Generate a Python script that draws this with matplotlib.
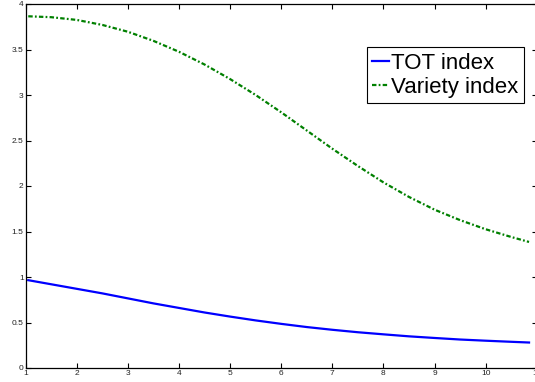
import matplotlib
matplotlib.use('Agg')
import matplotlib.pyplot as plt
import numpy as np

#%% Data
x_tot = [1.05, 1.5, 2, 2.5, 3, 3.5, 4, 4.5, 5, 5.5, 6, 6.5, 7, 7.5, 8, 8.5, 9, 9.5, 10, 10.5, 10.85]
tot_index = [0.965, 0.92, 0.87, 0.82, 0.765, 0.71, 0.66, 0.61, 0.565, 0.523, 0.485, 0.45,
             0.42, 0.393, 0.37, 0.348, 0.33, 0.313, 0.30, 0.288, 0.28]

x_var = [1.05, 1.5, 2, 2.5, 3, 3.5, 4, 4.5, 5, 5.5, 6, 6.5, 7, 7.5, 8, 8.5, 9, 9.5, 10, 10.5, 10.85]
variety_index = [3.865, 3.855, 3.825, 3.77, 3.695, 3.595, 3.475, 3.335, 3.175, 3.0, 2.81, 2.61,
                 2.41, 2.22, 2.04, 1.88, 1.74, 1.625, 1.525, 1.44, 1.385]

x_ticks = list(range(1, 12))
y_ticks = [0, 0.5, 1, 1.5, 2, 2.5, 3, 3.5, 4]
y_tick_labels = ['0', '0.5', '1', '1.5', '2', '2.5', '3', '3.5', '4']

#%% Plot
plt.rcParams['font.family'] = ['Liberation Sans', 'DejaVu Sans']

fig = plt.figure(figsize=(5.35, 3.82), dpi=100)
ax = fig.add_axes([25.7/535, 14/382, 511/535, 364/382])

ax.plot(x_tot, tot_index, color='#0000ff', lw=1.6, label='TOT index')
ax.plot(x_var, variety_index, color='#008000', lw=1.6,
        linestyle=(0, (2, 1, 0.8, 1)), label='Variety index')

ax.set_xlim(1, 11)
ax.set_ylim(0, 4)
ax.set_xticks(x_ticks)
ax.set_xticklabels([str(v) for v in x_ticks])
ax.set_yticks(y_ticks)
ax.set_yticklabels(y_tick_labels)
ax.tick_params(direction='in', length=3.5, width=0.8, top=True, right=True,
               labelsize=6, labelcolor='#222222', pad=1.5)
for sp in ax.spines.values():
    sp.set_linewidth(0.9)

leg = ax.legend(loc='upper right', bbox_to_anchor=(0.975, 0.882), borderaxespad=0,
                fontsize=16, handlelength=0.75, handletextpad=0.1,
                borderpad=0.25, labelspacing=0.15, fancybox=False, framealpha=1)
leg.get_frame().set_edgecolor('black')
leg.get_frame().set_linewidth(0.8)

fig.savefig('out.png', dpi=100)
